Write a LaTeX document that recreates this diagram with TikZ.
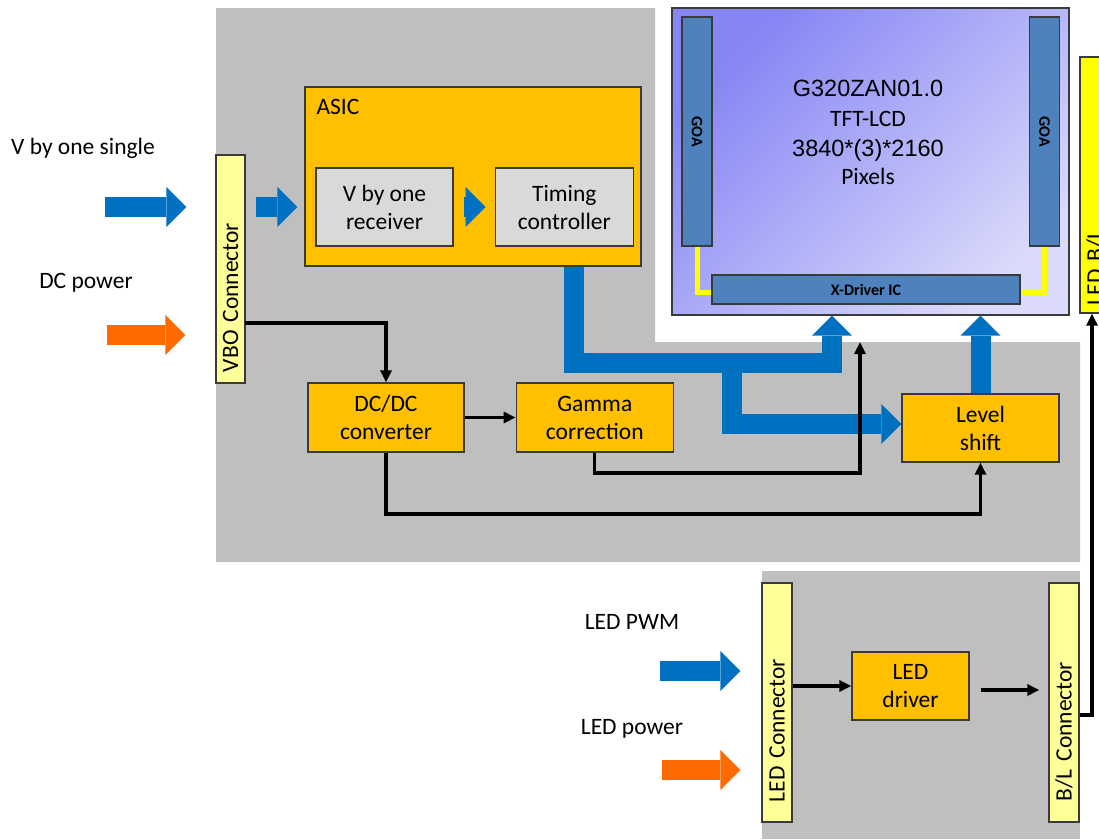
\documentclass[tikz,border=0pt]{standalone}
\usepackage{fontspec}
\setmainfont{Carlito}
\newfontfamily\arialfont{Liberation Sans}
\usetikzlibrary{positioning, arrows.meta}

\definecolor{bggray}{HTML}{BFBFBF}
\definecolor{asicor}{HTML}{FFC000}
\definecolor{rxgray}{HTML}{D9D9D9}
\definecolor{connyel}{HTML}{FFFF99}
\definecolor{ledyel}{HTML}{FFFF00}
\definecolor{sigblue}{HTML}{0070C0}
\definecolor{pwrorange}{HTML}{FF6A00}
\definecolor{goablue}{HTML}{4F81BD}
\definecolor{panA}{HTML}{8585F5}
\definecolor{panB}{HTML}{DADAFA}
\definecolor{boxline}{HTML}{3A3A3A}

\newcommand{\txtsize}{\fontsize{23.5}{28}\selectfont}

\begin{document}
\begin{tikzpicture}[
            x=1pt, y=-1pt,
            box/.style={
                    draw=boxline,
                    line width=1.3pt,
                    align=center,
                    inner sep=0pt,
                    font=\txtsize
                },
            orbox/.style={
                    box,
                    fill=asicor
                },
            grbox/.style={
                    box,
                    fill=rxgray
                },
            conn/.style={
                    box,
                    fill=connyel,
                    rotate=90,
                    align=left,
                    minimum width=239pt,
                    minimum height=30pt
                },
            goabar/.style={
                    draw=boxline,
                    line width=1.3pt,
                    fill=goablue,
                    inner sep=0pt,
                    font=\fontsize{16}{18}\selectfont\bfseries
                },
            lbl/.style={
                    font=\txtsize
                },
            sigline/.style={
                    -{Triangle[length=12pt,width=11pt]},
                    line width=3.2pt
                },
            fatblue/.style={
                    -{Triangle[length=20pt,width=40pt,line width=0pt]},
                    line width=20pt,
                    draw=sigblue
                },
            fatorange/.style={
                    fatblue,
                    draw=pwrorange
                },
            glue/.style={
                    draw=ledyel,
                    line width=5pt
                }
        ]

        \useasboundingbox (0,0) rectangle (1099,839);
        \clip (0,0) rectangle (1099,839);


        \fill[bggray] (216,8) -- (655,8) -- (655,342) -- (1080,342)
        -- (1080,562) -- (216,562) -- cycle;

        \fill[bggray] (762,571) rectangle (1080,839);


        \node[draw=boxline, line width=1.3pt, top color=panA,
        bottom color=panB, shading angle=45, inner sep=0pt,
        minimum width=397pt, minimum height=307pt]
        (panel) at (870.5,161.5) {};


        \node[align=center, font=\txtsize] (paneltxt) at (868,132)
        {{\arialfont G320ZAN01.0}\\[2pt]TFT-LCD\\[2pt]{\arialfont 3840*(3)*2160}\\Pixels};


        \node[goabar, rotate=-90, minimum width=229pt, minimum height=30pt]
        (goaL) at (697,131.5) {GOA};


        \node[goabar, rotate=-90, minimum width=229pt, minimum height=30pt]
        (goaR) at (1044.5,131.5) {GOA};


        \node[goabar, minimum width=308pt, minimum height=29pt,
        font=\fontsize{16}{18}\selectfont\bfseries]
        (xdrv) at (866,289.5) {X-Driver IC};


        \draw[glue] (goaL.east) |- ([yshift=-3pt]xdrv.west);
        \draw[glue] (goaR.east) |- ([yshift=-3pt]xdrv.east);


        \node[box, fill=ledyel, rotate=90, align=left,
        minimum width=256pt, minimum height=30pt,
        text width=240pt, inner xsep=8pt]
        (ledbl) at (1095,185) {LED B/L};


        \node[conn, minimum width=228pt, minimum height=29pt,
        text width=206pt, inner xsep=11pt]
        (vbo) at (230.5,269) {VBO Connector};


        \node[orbox, minimum width=336pt, minimum height=179pt]
        (asic) at (473,176.5) {};


        \node[lbl, anchor=west] (asiclbl) at (313,107) {ASIC};


        \node[grbox, minimum width=137pt, minimum height=78pt]
        (rx) at (384.5,207) {V by one\\receiver};


        \node[grbox, minimum width=138pt, minimum height=78pt,
        right=41pt of rx]
        (tc) {Timing\\controller};


        \node[orbox, minimum width=156pt, minimum height=69pt]
        (dcdc) at (386,417.5) {DC/DC\\converter};


        \node[orbox, minimum width=157pt, minimum height=69pt,
        right=51pt of dcdc]
        (gamma) {Gamma\\correction};


        \node[orbox, minimum width=157pt, minimum height=68pt]
        (lvl) at (980.5,428) {Level\\shift};


        \node[conn, text width=199pt, inner xsep=20pt]
        (ledc) at (777,702.5) {LED Connector};


        \node[conn, text width=197pt, inner xsep=21pt]
        (blc) at (1064,702.5) {B/L Connector};


        \node[orbox, minimum width=117pt, minimum height=68pt]
        (drv) at (910.5,686) {LED\\driver};


        \node[lbl] (vbylbl) at (83,148) {V by one single};
        \node[lbl] (dclbl) at (86,283) {DC power};
        \node[lbl] (pwmlbl) at (632,622) {LED PWM};
        \node[lbl] (ledpwrlbl) at (632,729) {LED power};


        \coordinate (vbyin) at (105,207);
        \coordinate (dcin) at (107,335);
        \coordinate (pwmin) at (660,671);
        \coordinate (ledpwrin) at (662,770);
        \coordinate (vbopwr) at (245,323);


        \draw[fatblue, shorten >=29pt] (vbyin) -- (vbo.north |- vbyin);
        \draw[fatorange, shorten >=30pt] (dcin) -- (vbo.north |- dcin);
        \draw[fatblue, shorten >=21pt] (pwmin) -- (ledc.north |- pwmin);
        \draw[fatorange, shorten >=21pt] (ledpwrin) -- (ledc.north |- ledpwrin);


        \draw[fatblue, shorten <=10pt, shorten >=7pt]
        (vbo.south |- 0,207) -- (asic.west |- 0,207);
        \draw[fatblue, shorten <=10pt, shorten >=9pt] (rx.east) -- (tc.west);


        \draw[fatblue, -] (574,0 |- asic.south) -- (574,363) -- (742,363);
        \draw[fatblue] (720,363) -- (832,363) -- (832,0 |- panel.south);
        \draw[fatblue] (731.5,363) -- (731.5,424) -- (lvl.west |- 0,424);
        \draw[fatblue] (lvl.north) -- (lvl.north |- panel.south);


        \draw[sigline] (vbopwr) -| (dcdc.north);
        \draw[sigline] (dcdc.east) -- (gamma.west);
        \draw[sigline] (gamma.south) -- (gamma.south |- 0,473)
        -- (860,473) -- (860,342);
        \draw[sigline] (dcdc.south) -- (dcdc.south |- 0,514) -| (lvl.south);


        \draw[sigline] (ledc.south |- drv.west) -- (drv.west);
        \draw[sigline, shorten <=11pt, shorten >=9pt]
        (drv.east |- 0,690) -- (blc.north |- 0,690);
        \draw[sigline] (blc.south |- 0,715) -- (1092,715)
        -- (1092,0 |- ledbl.west);


    \end{tikzpicture}
\end{document}
